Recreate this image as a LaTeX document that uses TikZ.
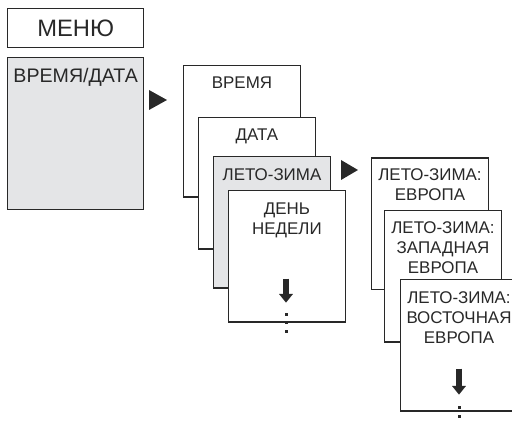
\documentclass[tikz,border=0pt]{standalone}
\usepackage{fontspec}
\setmainfont{Liberation Sans}
\usepackage{xcolor}
\usetikzlibrary{arrows.meta, positioning, calc}
\definecolor{boxgray}{RGB}{228,229,231}
\definecolor{inkgray}{RGB}{40,40,40}

\tikzset{
  screen/.style={draw=inkgray, line width=1pt, fill=white, inner sep=0pt,
    minimum width=87.5pt, minimum height=98.5pt, anchor=north west},
  screensel/.style={screen, fill=boxgray},
  lbl/.style={inner sep=0pt, align=center, text=inkgray,
    font=\fontsize{12.7pt}{15pt}\selectfont},
  downarrow/.style={draw=inkgray, line width=4.2pt, -{Triangle[width=10pt,length=6.5pt]}},
  pointer/.style={fill=inkgray}
}

\begin{document}
\begin{tikzpicture}[x=0.75pt, y=-0.75pt]
  \useasboundingbox (0,0) rectangle (512,424);

  % menu head
  \node[screen, minimum width=102pt, minimum height=29.25pt, text=inkgray,
    font=\fontsize{17.8pt}{20pt}\selectfont] (menu) at (7,8) {МЕНЮ};
  \node[screensel, minimum width=102pt, minimum height=114pt] (zeitdatum) at (7,57) {};
  \node[lbl, font=\fontsize{14.7pt}{18pt}\selectfont, below=8.25pt of zeitdatum.north] (zeitdatum text) {ВРЕМЯ/ДАТА};

  \fill[pointer] (149,90) -- (167,100) -- (149,110) -- cycle;

  % second level
  \node[screen] (vremya) at (183,65) {};
  \node[lbl, below=9pt of vremya.north] (vremya text) {ВРЕМЯ};
  \node[screen] (data) at (198,117) {};
  \node[lbl, below=8.5pt of data.north] (data text) {ДАТА};
  \node[screensel] (leto) at (213,156) {};
  \node[lbl, below=9pt of leto.north] (leto text) {ЛЕТО-ЗИМА};
  \node[screen] (den) at (228,190) {};
  \node[lbl, below=9.5pt of den.north] (den text) {ДЕНЬ\\НЕДЕЛИ};

  \draw[downarrow] ($(den.south)+(-1,-44)$) -- ($(den.south)+(-1,-20)$);
  \foreach \d in {-8,0,9}
    \fill[inkgray] ($(den.south)+(-0.5,\d)$) ++(-1.5,-1.5) rectangle ++(3,3);

  \fill[pointer] (341,160) -- (358,170) -- (341,180) -- cycle;

  % third level
  \node[screen] (evropa) at (371,157.5) {};
  \node[lbl, below=8.25pt of evropa.north] (evropa text) {ЛЕТО-ЗИМА:\\ЕВРОПА};
  \node[screen] (zapad) at (384,210) {};
  \node[lbl, below=8.75pt of zapad.north] (zapad text) {ЛЕТО-ЗИМА:\\ЗАПАДНАЯ\\ЕВРОПА};
  \node[screen] (vostok) at (400,279) {};
  \node[lbl, below=9.25pt of vostok.north] (vostok text) {ЛЕТО-ЗИМА:\\ВОСТОЧНАЯ\\ЕВРОПА};

  \draw[downarrow] ($(vostok.south)+(0,-43)$) -- ($(vostok.south)+(0,-17)$);
  \foreach \d in {-4,5,14}
    \fill[inkgray] ($(vostok.south)+(0.5,\d)$) ++(-1.5,-1.5) rectangle ++(3,3);
\end{tikzpicture}
\end{document}
